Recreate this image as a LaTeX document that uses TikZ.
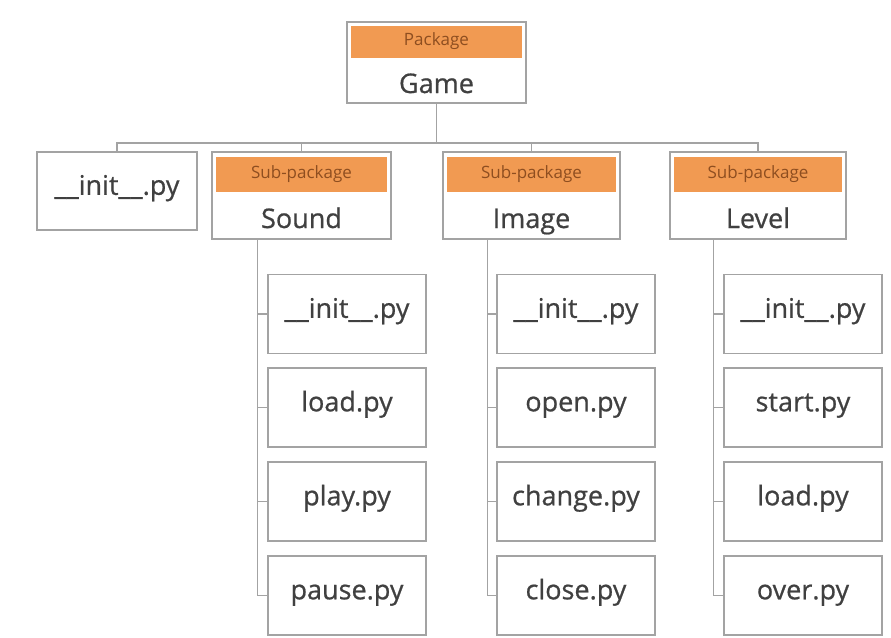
\documentclass[tikz,border=0pt]{standalone}
\usepackage{fontspec}
\setmainfont{Open Sans}
\newfontfamily\lblfont{Open Sans}[FakeBold=0.7]
\definecolor{edge}{HTML}{A3A3A3}
\definecolor{ink}{HTML}{404040}
\definecolor{hdr}{HTML}{F19A52}
\definecolor{hdrink}{HTML}{8E4E20}
\begin{document}
\begin{tikzpicture}[x=1pt,y=-1pt,
  box/.style={draw=edge,line width=1.5pt,fill=white,inner sep=0pt,text=ink,
    font=\lblfont\fontsize{27}{30}\selectfont,text height=0.76em,text depth=0pt},
  pkg/.style={draw=edge,line width=1.5pt,fill=white,inner sep=0pt},
  tag/.style={fill=hdr,inner sep=0pt,text=hdrink,font=\fontsize{17}{19}\selectfont,
    text height=0.76em,text depth=0pt},
  pkglabel/.style={anchor=base,inner sep=0pt,text=ink,font=\lblfont\fontsize{27}{30}\selectfont},
  link/.style={draw=edge,line width=1.5pt},
  filebox/.style={box,minimum width=158pt,minimum height=79pt}]
\useasboundingbox (0,0) rectangle (891,637);

% top-level package
\node[pkg,minimum width=179pt,minimum height=81pt] (game) at (436.5,62.5) {};
\node[tag,minimum width=171pt,minimum height=32pt] (gametag) at (436.5,42) {Package};
\node[pkglabel] (gamename) at (436.5,93) {Game};

% second level
\node[box,minimum width=160pt,minimum height=78pt] (init0) at (117,191) {\_\_init\_\_.py};

\node[pkg,minimum width=179pt,minimum height=87pt] (sound) at (301.5,195.5) {};
\node[tag,minimum width=171pt,minimum height=35pt] (soundtag) at (301.5,174.5) {Sub-package};
\node[pkglabel] (soundname) at (301.5,228) {Sound};

\node[pkg,minimum width=177pt,minimum height=87pt] (image) at (531.5,195.5) {};
\node[tag,minimum width=169pt,minimum height=35pt] (imagetag) at (531.5,174.5) {Sub-package};
\node[pkglabel] (imagename) at (531.5,228) {Image};

\node[pkg,minimum width=176pt,minimum height=87pt] (level) at (758,195.5) {};
\node[tag,minimum width=168pt,minimum height=35pt] (leveltag) at (758,174.5) {Sub-package};
\node[pkglabel] (levelname) at (758,228) {Level};

% bus from the top package to its members
\coordinate (bus) at (436.5,143);
\draw[link] (game.south) -- (bus);
\draw[link] (bus) -| (init0.north);
\draw[link] (bus) -| (sound.north);
\draw[link] (bus) -| (image.north);
\draw[link] (bus) -| (level.north);

% Sound modules
\node[filebox] (s1) at (347,314) {\_\_init\_\_.py};
\node[filebox] (s2) at (347,407.5) {load.py};
\node[filebox] (s3) at (347,501.5) {play.py};
\node[filebox] (s4) at (347,595.5) {pause.py};
\foreach \m in {s1,s2,s3,s4}
  \draw[link] ([xshift=46pt]sound.south west) |- (\m.west);

% Image modules
\node[filebox] (i1) at (576,314) {\_\_init\_\_.py};
\node[filebox] (i2) at (576,407.5) {open.py};
\node[filebox] (i3) at (576,501.5) {change.py};
\node[filebox] (i4) at (576,595.5) {close.py};
\foreach \m in {i1,i2,i3,i4}
  \draw[link] ([xshift=45pt]image.south west) |- (\m.west);

% Level modules
\node[filebox] (l1) at (803,314) {\_\_init\_\_.py};
\node[filebox] (l2) at (803,407.5) {start.py};
\node[filebox] (l3) at (803,501.5) {load.py};
\node[filebox] (l4) at (803,595.5) {over.py};
\foreach \m in {l1,l2,l3,l4}
  \draw[link] ([xshift=44pt]level.south west) |- (\m.west);
\end{tikzpicture}
\end{document}
